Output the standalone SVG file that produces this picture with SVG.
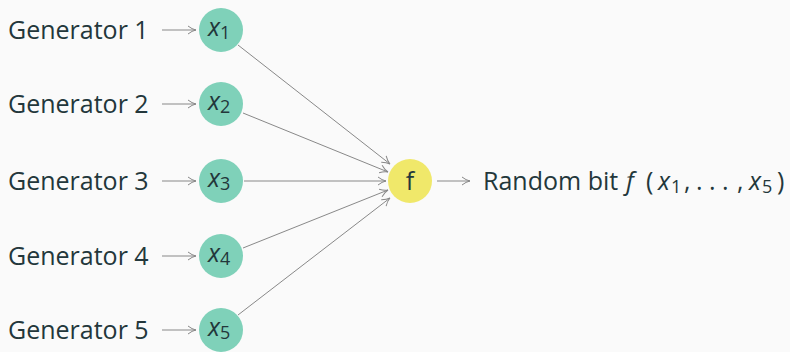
<svg xmlns="http://www.w3.org/2000/svg" width="790" height="352" viewBox="0 0 790 352">
  <defs>
    <marker id="to" viewBox="0 0 10 10" refX="9" refY="5" markerWidth="10" markerHeight="10" markerUnits="userSpaceOnUse" orient="auto">
      <path d="M1,1 Q5,4.2 9,5 Q5,5.8 1,9" fill="none" stroke="#888" stroke-width="1"/>
    </marker>
  </defs>
  <style>
    .lbl { font-family: "Open Sans", "Liberation Sans", sans-serif; font-size: 25px; fill: #23373b; }
    .var { font-family: "Open Sans", "Liberation Sans", sans-serif; font-size: 25px; fill: #23373b; font-style: italic; }
    .sub { font-size: 18px; font-style: normal; }
    .xn { fill: #7fd1b9; }
    .fn { fill: #f0e86a; }
    .edge { stroke: #888; stroke-width: 1; fill: none; marker-end: url(#to); }
  </style>
  <rect width="790" height="352" fill="#fafafa"/>

  <g id="connectors">
    <line class="edge" x1="162" y1="30" x2="196" y2="30"/>
    <line class="edge" x1="162" y1="104" x2="196" y2="104"/>
    <line class="edge" x1="162" y1="181" x2="196" y2="181"/>
    <line class="edge" x1="162" y1="256" x2="196" y2="256"/>
    <line class="edge" x1="162" y1="330" x2="196" y2="330"/>
    <line class="edge" x1="238" y1="45" x2="390" y2="164"/>
    <line class="edge" x1="243" y1="113" x2="388" y2="172"/>
    <line class="edge" x1="244" y1="181" x2="386" y2="181"/>
    <line class="edge" x1="243" y1="248" x2="388" y2="190"/>
    <line class="edge" x1="238" y1="315" x2="390" y2="198"/>
    <line class="edge" x1="437" y1="181" x2="470" y2="181"/>
  </g>

  <g id="gen1"><text class="lbl" x="8" y="39">Generator 1</text></g>
  <g id="gen2"><text class="lbl" x="8" y="113">Generator 2</text></g>
  <g id="gen3"><text class="lbl" x="8" y="190">Generator 3</text></g>
  <g id="gen4"><text class="lbl" x="8" y="265">Generator 4</text></g>
  <g id="gen5"><text class="lbl" x="8" y="339">Generator 5</text></g>

  <g id="x1"><circle class="xn" cx="221" cy="30" r="22"/><text class="var" x="208" y="36">x<tspan class="sub" dy="3">1</tspan></text></g>
  <g id="x2"><circle class="xn" cx="221" cy="104" r="22"/><text class="var" x="208" y="110">x<tspan class="sub" dy="3">2</tspan></text></g>
  <g id="x3"><circle class="xn" cx="221" cy="181" r="22"/><text class="var" x="208" y="187">x<tspan class="sub" dy="3">3</tspan></text></g>
  <g id="x4"><circle class="xn" cx="221" cy="256" r="22"/><text class="var" x="208" y="262">x<tspan class="sub" dy="3">4</tspan></text></g>
  <g id="x5"><circle class="xn" cx="221" cy="330" r="22"/><text class="var" x="208" y="336">x<tspan class="sub" dy="3">5</tspan></text></g>

  <g id="f"><circle class="fn" cx="410" cy="181" r="22"/><text class="lbl" x="410" y="190" text-anchor="middle">f</text></g>

  <g id="output">
    <text class="lbl" x="483" y="190">Random bit</text>
    <text class="var" x="626" y="190">f</text>
    <text class="lbl" x="646" y="190">(</text>
    <text class="var" x="658" y="190">x</text>
    <text class="lbl sub" x="671" y="193">1</text>
    <text class="lbl" x="684" y="190">,</text>
    <text class="lbl" x="696" y="190">.</text>
    <text class="lbl" x="709" y="190">.</text>
    <text class="lbl" x="722" y="190">.</text>
    <text class="lbl" x="737" y="190">,</text>
    <text class="var" x="749" y="190">x</text>
    <text class="lbl sub" x="762" y="193">5</text>
    <text class="lbl" x="777" y="190">)</text>
  </g>
</svg>
